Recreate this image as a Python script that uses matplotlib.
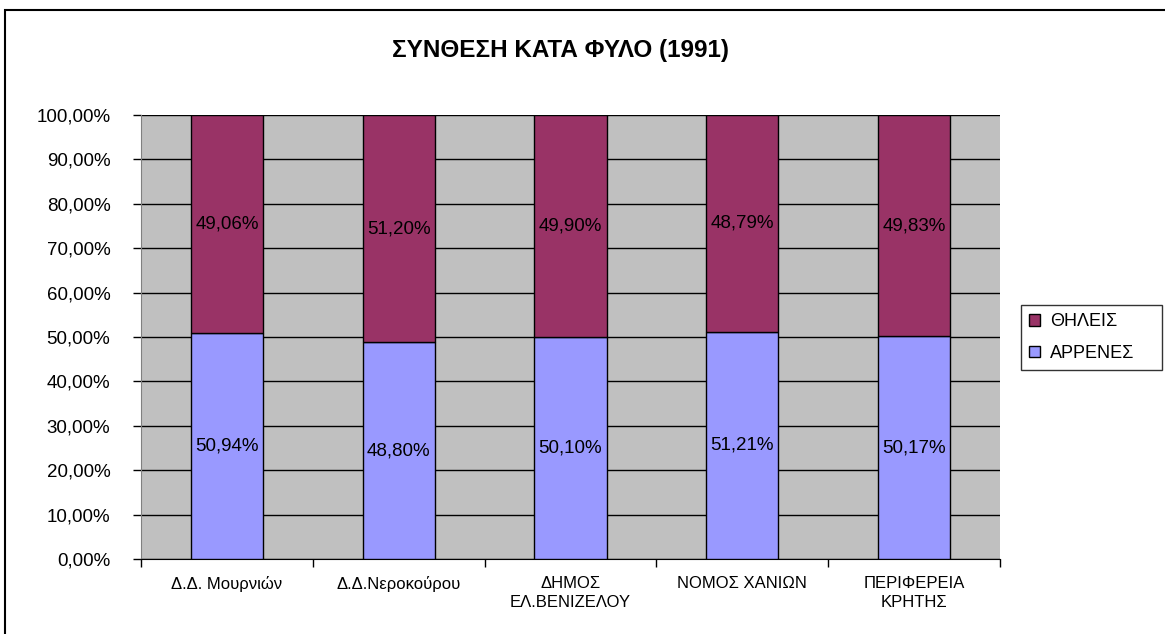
import matplotlib
matplotlib.use("Agg")
import matplotlib.pyplot as plt
import numpy as np
from matplotlib.patches import Rectangle, Patch
from matplotlib.ticker import FuncFormatter, MultipleLocator

plt.rcParams["font.family"] = ["Liberation Sans", "DejaVu Sans"]

# ── data ─────────────────────────────────────────────────────────
categories = ["Δ.Δ. Μουρνιών", "Δ.Δ.Νεροκούρου", "ΔΗΜΟΣ\nΕΛ.ΒΕΝΙΖΕΛΟΥ",
              "ΝΟΜΟΣ ΧΑΝΙΩΝ", "ΠΕΡΙΦΕΡΕΙΑ\nΚΡΗΤΗΣ"]
male = [50.94, 48.80, 50.10, 51.21, 50.17]     # ΑΡΡΕΝΕΣ
female = [49.06, 51.20, 49.90, 48.79, 49.83]   # ΘΗΛΕΙΣ

MALE_C = "#9999FF"
FEMALE_C = "#993366"

W, H = 1165, 634
fig = plt.figure(figsize=(W / 100, H / 100), dpi=100, facecolor="white")

# outer chart border (Excel chart area)
fig.patches.append(Rectangle((5 / W, -0.05), 1.2, (H - 10) / H + 0.05,
                             transform=fig.transFigure, fill=False,
                             edgecolor="black", linewidth=1.5))

ax = fig.add_axes([141 / W, 1 - 559 / H, (1000 - 141) / W, (559 - 115) / H])
ax.set_facecolor("#C0C0C0")

x = np.arange(len(categories))
bw = 0.42
ax.bar(x, male, bw, color=MALE_C, edgecolor="black", linewidth=1, zorder=3)
ax.bar(x, female, bw, bottom=male, color=FEMALE_C, edgecolor="black",
       linewidth=1, zorder=3)

fmt = lambda v: f"{v:.2f}%".replace(".", ",")
for xi, m, f in zip(x, male, female):
    ax.text(xi, m / 2, fmt(m), ha="center", va="center", fontsize=13.5,
            color="black", zorder=4)
    ax.text(xi, m + f / 2, fmt(f), ha="center", va="center", fontsize=13.5,
            color="black", zorder=4)

ax.set_xlim(-0.5, len(categories) - 0.5)
ax.set_ylim(0, 100)
ax.yaxis.set_major_locator(MultipleLocator(10))
ax.yaxis.set_major_formatter(FuncFormatter(lambda v, p: f"{v:.2f}%".replace(".", ",")))
ax.grid(axis="y", color="black", linewidth=1, zorder=1)
ax.tick_params(axis="y", labelsize=13.5, length=6, width=1, pad=16)

ax.set_xticks(x)
ax.set_xticklabels(categories, fontsize=12, linespacing=1.4)
ax.tick_params(axis="x", length=0, pad=12)
ax.set_xticks(np.arange(-0.5, len(categories), 1), minor=True)
ax.tick_params(axis="x", which="minor", length=6, width=1)

for s in ["top", "right"]:
    ax.spines[s].set_visible(False)
ax.spines["left"].set_color("#808080")
ax.spines["bottom"].set_color("black")

fig.text(560 / W, 1 - 51 / H, "ΣΥΝΘΕΣΗ ΚΑΤΑ ΦΥΛΟ (1991)", ha="center",
         va="center", fontsize=17.5, fontweight="bold")

handles = [Patch(facecolor=FEMALE_C, edgecolor="black", label="ΘΗΛΕΙΣ"),
           Patch(facecolor=MALE_C, edgecolor="black", label="ΑΡΡΕΝΕΣ")]
leg = fig.legend(handles=handles, loc="center left", mode="expand",
                 bbox_to_anchor=(1021 / W, 1 - 371 / H, 141 / W, 67 / H),
                 fontsize=13, frameon=True, fancybox=False, edgecolor="black",
                 handlelength=0.6, handleheight=0.6, handletextpad=0.55,
                 borderpad=0.45, labelspacing=0.8, borderaxespad=0)
leg.get_frame().set_linewidth(1)

fig.savefig("out.png", dpi=100, facecolor="white")
